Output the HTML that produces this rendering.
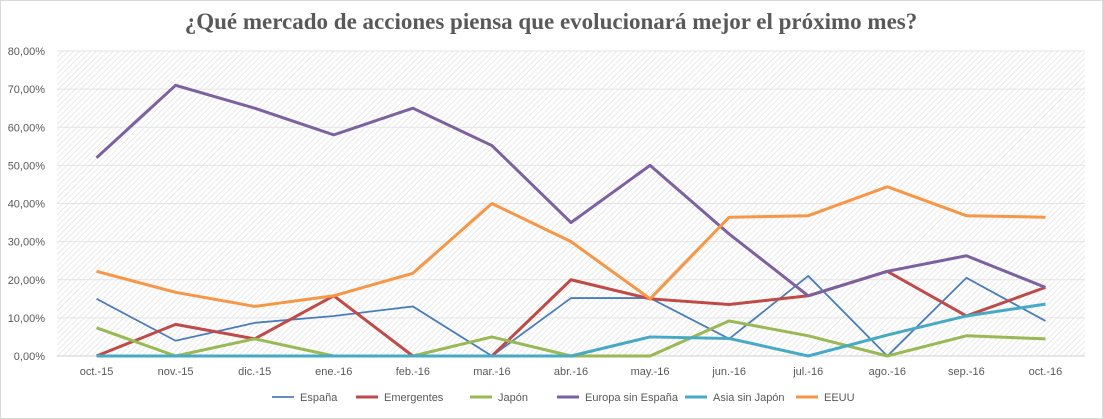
<!DOCTYPE html>
<html><head><meta charset="utf-8"><style>
body{margin:0;background:#fff;}
svg{display:block;font-family:"Liberation Sans",sans-serif;}
</style></head><body>
<svg id="chart" width="1103" height="419">
<defs>
<pattern id="hatch" width="4" height="4" patternUnits="userSpaceOnUse" patternTransform="rotate(45)">
<rect width="4" height="4" fill="#fff"/>
<line x1="0" y1="0" x2="0" y2="4" stroke="#dcdcdc" stroke-width="1.2"/>
</pattern>
</defs>
<rect x="0.5" y="0.5" width="1102" height="418" fill="#fff" stroke="#d9d9d9"/>
<text x="551" y="29" text-anchor="middle" font-family="Liberation Serif, serif" font-weight="bold" font-size="23" fill="#595959">¿Qué mercado de acciones piensa que evolucionará mejor el próximo mes?</text>
<rect x="57" y="51" width="1028" height="305" fill="url(#hatch)"/>
<g id="grid"></g><g id="series"></g><g id="legend"></g>
</svg>
<script>
const categories=["oct.-15","nov.-15","dic.-15","ene.-16","feb.-16","mar.-16","abr.-16","may.-16","jun.-16","jul.-16","ago.-16","sep.-16","oct.-16"];
const yTicks=[0,10,20,30,40,50,60,70,80];
const seriesNames=["España","Emergentes","Japón","Europa sin España","Asia sin Japón","EEUU"];
const espana=[15,4,8.7,10.5,13,0,15.2,15.2,4.5,21,0,20.5,9.2];
const emergentes=[0,8.3,4.5,15.8,0,0,20,15,13.5,15.8,22.2,10.5,18];
const japon=[7.4,0,4.5,0,0,5,0,0,9.2,5.3,0,5.3,4.5];
const europa=[52,71,65,58,65,55.2,35,50,32,15.8,22.2,26.3,18];
const asia=[0,0,0,0,0,0,0,5,4.6,0,5.5,10.5,13.6];
const eeuu=[22.2,16.7,13,15.8,21.7,40,30,15,36.4,36.8,44.4,36.8,36.4];
const colors=["#4a7ebb","#be4b48","#98b954","#7d60a0","#46aac5","#f79646"];
const widths=[1.8,3,3,3,3,3];
const allSeries=[espana,emergentes,japon,europa,asia,eeuu];
const NS="http://www.w3.org/2000/svg";
const x0=57,x1=1085,yTop=51,yBot=356;
const step=(x1-x0)/categories.length;
const xs=i=>x0+step*(i+0.5);
const ys=v=>yBot-(v/80)*(yBot-yTop);
const grid=document.getElementById('grid');
yTicks.forEach(t=>{
 const l=document.createElementNS(NS,'line');
 l.setAttribute('x1',x0);l.setAttribute('x2',x1);l.setAttribute('y1',ys(t));l.setAttribute('y2',ys(t));
 l.setAttribute('stroke',t===0?'#d0d0d0':'#e4e4e4');l.setAttribute('stroke-width','1');
 
 
 grid.appendChild(l);
 const tx=document.createElementNS(NS,'text');
 tx.setAttribute('x',45);tx.setAttribute('y',ys(t)+4);tx.setAttribute('text-anchor','end');
 tx.setAttribute('font-size','11');tx.setAttribute('fill','#595959');
 tx.textContent=t.toFixed(2).replace('.',',')+'%';
 
 
 grid.appendChild(tx);
});
categories.forEach((c,i)=>{
 const tx=document.createElementNS(NS,'text');
 tx.setAttribute('x',xs(i));tx.setAttribute('y',375);tx.setAttribute('text-anchor','middle');
 tx.setAttribute('font-size','11');tx.setAttribute('fill','#595959');
 tx.textContent=c;
 
 
 grid.appendChild(tx);
});
const sg=document.getElementById('series');
allSeries.forEach((s,k)=>{
 const p=document.createElementNS(NS,'polyline');
 p.setAttribute('points',s.map((v,i)=>xs(i)+','+ys(v)).join(' '));
 p.setAttribute('fill','none');p.setAttribute('stroke',colors[k]);p.setAttribute('stroke-width',widths[k]);
 p.setAttribute('stroke-linejoin','round');
 
 
 sg.appendChild(p);
});
const lg=document.getElementById('legend');
const lx=[272,356,470,557,685,796];
seriesNames.forEach((n,k)=>{
 const g=document.createElementNS(NS,'g');
 
 
 const l=document.createElementNS(NS,'line');
 l.setAttribute('x1',lx[k]);l.setAttribute('x2',lx[k]+22);l.setAttribute('y1',397);l.setAttribute('y2',397);
 l.setAttribute('stroke',colors[k]);l.setAttribute('stroke-width',widths[k]);
 g.appendChild(l);
 const t=document.createElementNS(NS,'text');
 t.setAttribute('x',lx[k]+28);t.setAttribute('y',401);t.setAttribute('font-size','11');t.setAttribute('fill','#595959');
 t.textContent=n;
 g.appendChild(t);
 lg.appendChild(g);
});
</script>
</body></html>
